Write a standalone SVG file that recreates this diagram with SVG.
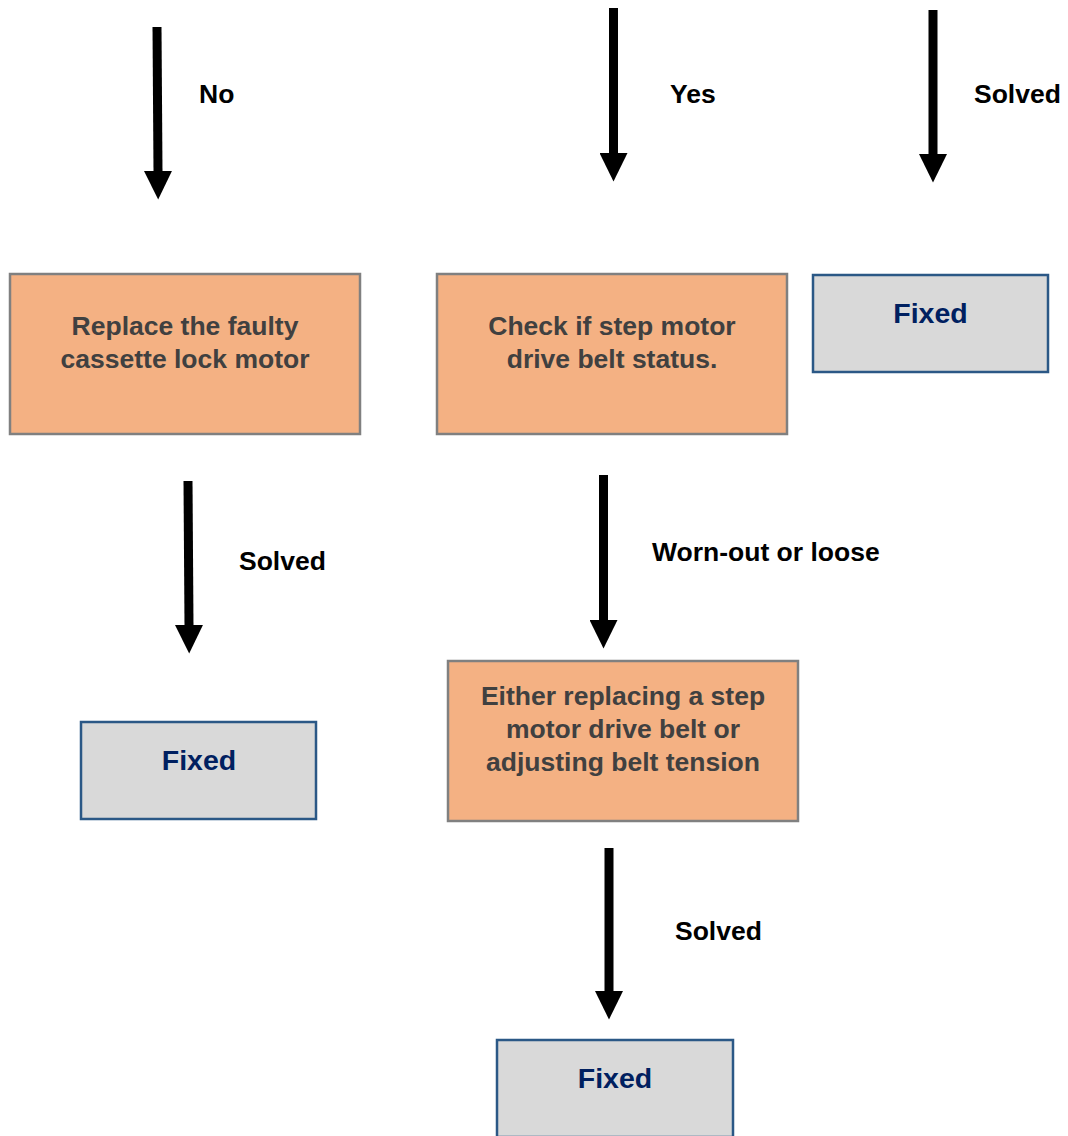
<svg xmlns="http://www.w3.org/2000/svg" width="1068" height="1136" viewBox="0 0 1068 1136">
<style>
  text { font-family: "Liberation Sans", Arial, sans-serif; font-weight: bold; }
  .proc { fill: #F4B183; stroke: #808080; stroke-width: 2.5; }
  .fixed { fill: #D9D9D9; stroke: #2B5886; stroke-width: 2.5; }
  .ptxt { fill: #404040; font-size: 26.5px; text-anchor: middle; }
  .ftxt { fill: #002060; font-size: 28.5px; text-anchor: middle; }
  .lbl { fill: #000000; font-size: 26.5px; }
  .conn { stroke: #000000; stroke-width: 9; fill: none; marker-end: url(#head); }
</style>
<defs>
  <marker id="head" viewBox="0 0 29 28" markerWidth="29" markerHeight="28" refX="1" refY="14" orient="auto" markerUnits="userSpaceOnUse">
    <path d="M0,0 L28.5,14 L0,28 Z" fill="#000000"/>
  </marker>
</defs>
<rect width="1068" height="1136" fill="#FFFFFF"/>
<g id="connectors">
  <line class="conn" x1="157" y1="27" x2="158" y2="172"/>
  <line class="conn" x1="613.5" y1="8" x2="613.5" y2="154"/>
  <line class="conn" x1="933" y1="10" x2="933" y2="155"/>
  <line class="conn" x1="188" y1="481" x2="189" y2="626"/>
  <line class="conn" x1="603.5" y1="475" x2="603.5" y2="621"/>
  <line class="conn" x1="609" y1="848" x2="609" y2="992"/>
  <text class="lbl" x="199" y="103">No</text>
  <text class="lbl" x="670" y="103">Yes</text>
  <text class="lbl" x="974" y="103">Solved</text>
  <text class="lbl" x="239" y="570">Solved</text>
  <text class="lbl" x="652" y="561">Worn-out or loose</text>
  <text class="lbl" x="675" y="940">Solved</text>
</g>
<g id="replace-motor">
  <rect class="proc" x="10" y="274" width="350" height="160"/>
  <text class="ptxt" x="185" y="335">Replace the faulty</text>
  <text class="ptxt" x="185" y="368">cassette lock motor</text>
</g>
<g id="check-belt">
  <rect class="proc" x="437" y="274" width="350" height="160"/>
  <text class="ptxt" x="612" y="335">Check if step motor</text>
  <text class="ptxt" x="612" y="368">drive belt status.</text>
</g>
<g id="fixed-1">
  <rect class="fixed" x="813" y="275" width="235" height="97"/>
  <text class="ftxt" x="930.5" y="323">Fixed</text>
</g>
<g id="fixed-2">
  <rect class="fixed" x="81" y="722" width="235" height="97"/>
  <text class="ftxt" x="199" y="770">Fixed</text>
</g>
<g id="replace-belt">
  <rect class="proc" x="448" y="661" width="350" height="160"/>
  <text class="ptxt" x="623" y="705">Either replacing a step</text>
  <text class="ptxt" x="623" y="738">motor drive belt or</text>
  <text class="ptxt" x="623" y="771">adjusting belt tension</text>
</g>
<g id="fixed-3">
  <rect class="fixed" x="497" y="1040" width="236" height="97"/>
  <text class="ftxt" x="615" y="1088">Fixed</text>
</g>
</svg>
